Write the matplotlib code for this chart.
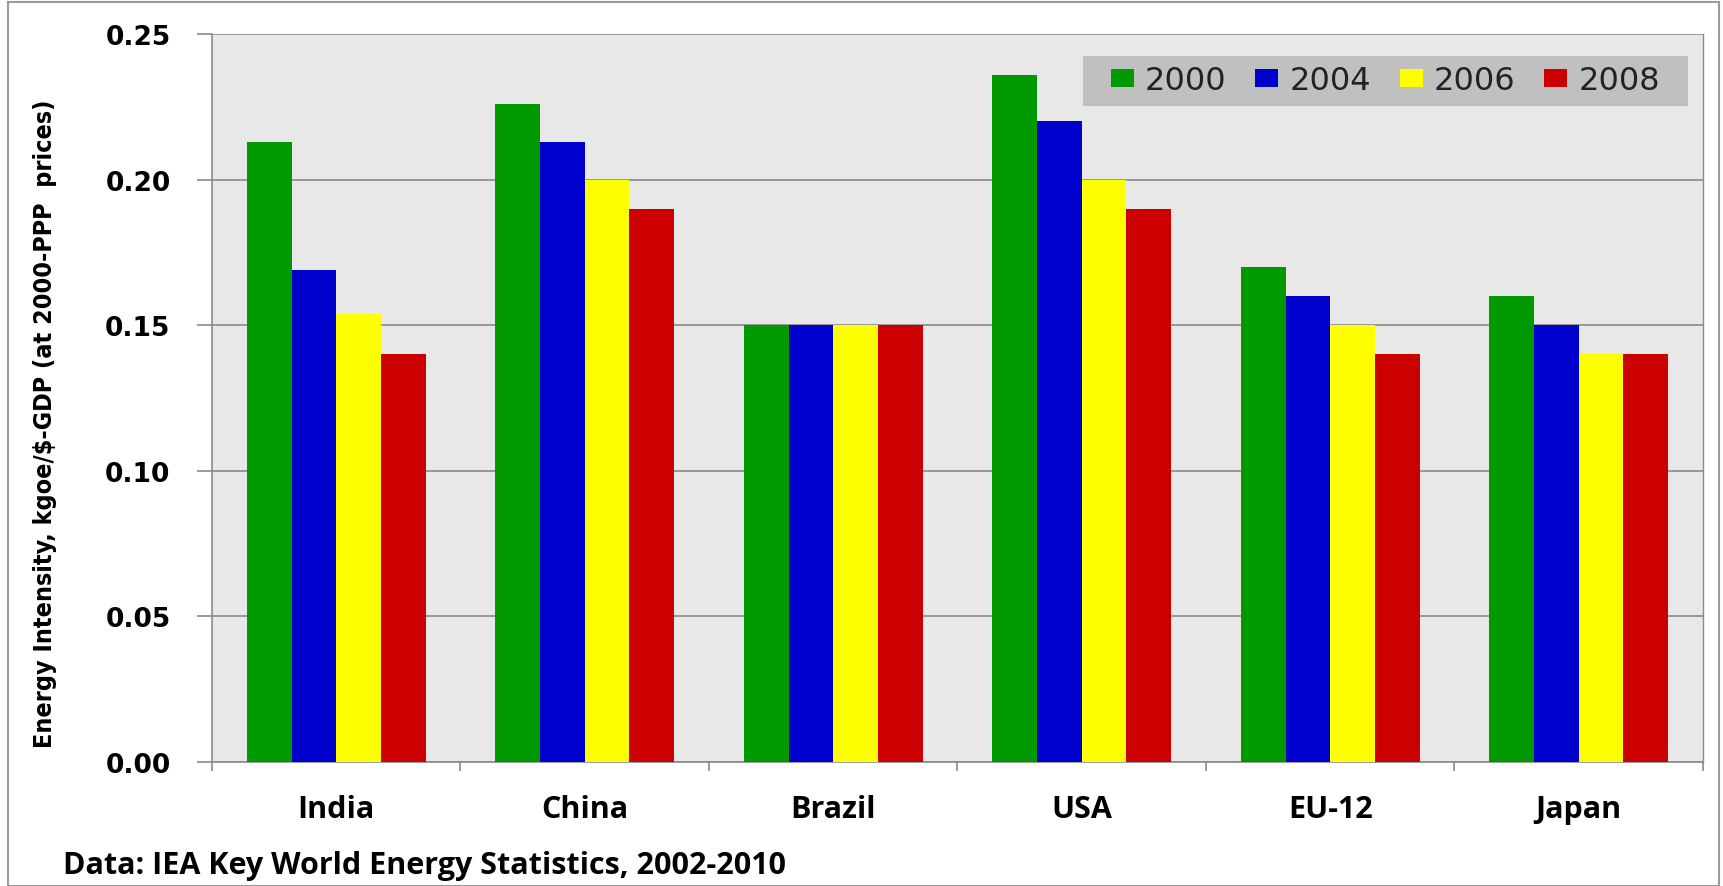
import matplotlib
matplotlib.use("Agg")
import matplotlib.pyplot as plt
from matplotlib.patches import Rectangle
import numpy as np

categories = ["India", "China", "Brazil", "USA", "EU-12", "Japan"]
years = ["2000", "2004", "2006", "2008"]
v2000 = [0.213, 0.226, 0.150, 0.236, 0.170, 0.160]
v2004 = [0.169, 0.213, 0.150, 0.220, 0.160, 0.150]
v2006 = [0.154, 0.200, 0.150, 0.200, 0.150, 0.140]
v2008 = [0.140, 0.190, 0.150, 0.190, 0.140, 0.140]
series = [v2000, v2004, v2006, v2008]
colors = ["#009900", "#0000CC", "#FFFF00", "#CC0000"]
yticks = [0.00, 0.05, 0.10, 0.15, 0.20, 0.25]

W, H = 1724, 887
fig = plt.figure(figsize=(W / 100, H / 100), dpi=100)
fig.patch.set_facecolor("white")

# outer border
fig.add_artist(Rectangle((8 / W, 0), (1719 - 8) / W, (H - 3) / H,
                         transform=fig.transFigure, fill=False,
                         edgecolor="#9a9a9a", lw=1.5))

left, right, top, bottom = 212, 1703, 35, 763
ax = fig.add_axes([left / W, 1 - bottom / H, (right - left) / W, (bottom - top) / H])
ax.set_facecolor("#E8E8E8")

x = np.arange(len(categories))
bw = 0.18
for i, (vals, c, yr) in enumerate(zip(series, colors, years)):
    ax.bar(x + (i - 1.5) * bw, vals, width=bw, color=c, label=yr, zorder=3,
           linewidth=0)

ax.set_xlim(-0.5, len(categories) - 0.5)
ax.set_ylim(0, 0.25)
ax.set_yticks(yticks)
ax.set_yticklabels([f"{t:.2f}" for t in yticks], fontfamily="DejaVu Sans",
                   fontweight="bold", fontsize=19)
ax.yaxis.grid(True, color="#8a8a8a", lw=1.2, zorder=1)
ax.tick_params(axis="y", length=10.8, width=1.2, color="#8a8a8a", pad=19)

ax.set_xticks(np.arange(-0.5, len(categories)), minor=False)
ax.set_xticklabels([])
ax.set_xticks(x, minor=True)
ax.set_xticklabels(categories, minor=True, fontfamily="Open Sans",
                   fontweight="bold", fontsize=22)
ax.tick_params(axis="x", which="major", length=6.5, width=1.2, color="#8a8a8a")
ax.tick_params(axis="x", which="minor", length=0, pad=23)

for s in ["left", "bottom"]:
    ax.spines[s].set_color("#8a8a8a")
    ax.spines[s].set_linewidth(1.2)
ax.spines["top"].set_visible(False)
ax.spines["right"].set_color("#8a8a8a")
ax.spines["right"].set_linewidth(1.0)

fig.text(45 / W, 1 - 424 / H, "Energy Intensity, kgoe/$-GDP (at 2000-PPP  prices)",
         fontfamily="DejaVu Sans", fontstretch="condensed",
         fontweight="bold", fontsize=18, rotation=90, ha="center", va="center")

# legend box
bx0, bx1, by0, by1 = 1083, 1688, 57, 107
ax.add_artist(Rectangle(((bx0 - left) / (right - left), 1 - (by1 - top) / (bottom - top)),
                        (bx1 - bx0) / (right - left), (by1 - by0) / (bottom - top),
                        transform=ax.transAxes, facecolor="#C0C0C0",
                        edgecolor="none", zorder=4))
leg = ax.legend(loc="center",
                bbox_to_anchor=(((bx0 + bx1) / 2 - left) / (right - left),
                                1 - ((by0 + by1) / 2 - top) / (bottom - top)),
                ncol=4, frameon=False,
                prop={"family": "DejaVu Sans", "size": 23},
                handlelength=0.72, handleheight=0.5, handletextpad=0.35,
                columnspacing=0.9, borderpad=0.0, borderaxespad=0)
leg.set_zorder(5)
for t in leg.get_texts():
    t.set_color("#222222")

fig.text(63 / W, 1 - 866 / H, "Data: IEA Key World Energy Statistics, 2002-2010",
         fontfamily="Open Sans", fontweight="bold", fontsize=22, va="center", ha="left")

fig.savefig("out.png", dpi=100)
